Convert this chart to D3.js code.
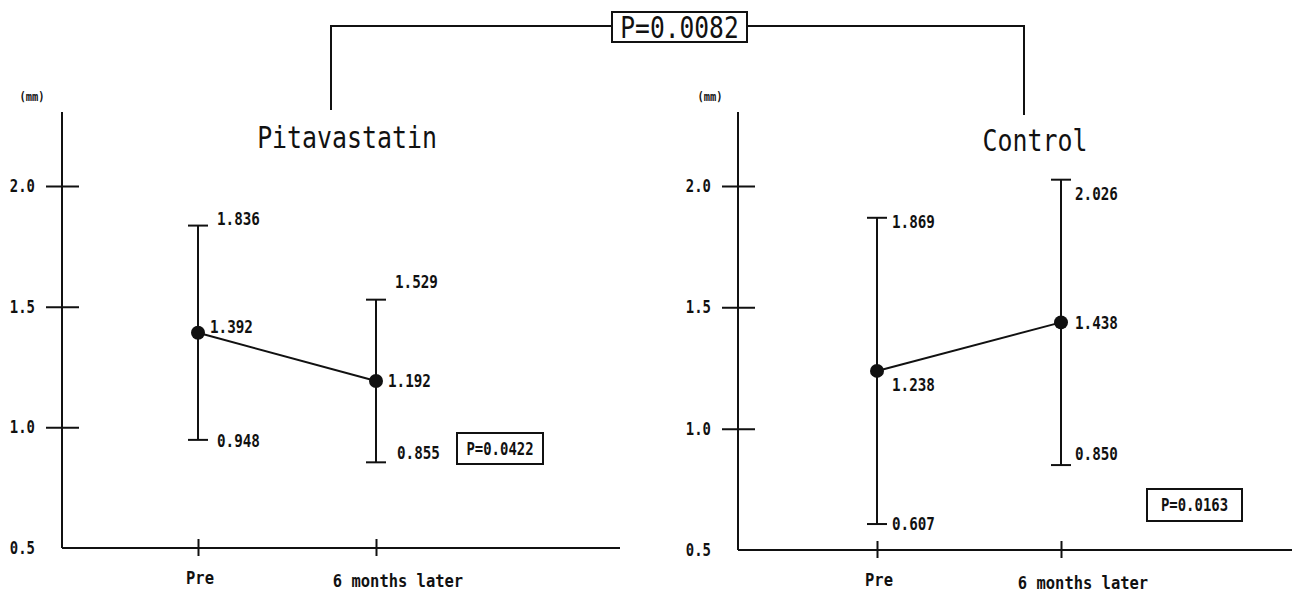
<!DOCTYPE html>
<html>
<head>
<meta charset="utf-8">
<script src="https://cdn.jsdelivr.net/npm/d3@7"></script>
<style>
  body { margin: 0; background: #fff; }
  svg { display: block; }
</style>
</head>
<body>
<svg id="chart"></svg>
<script>
// data
var categories = ["Pre", "6 months later"];
var yTicks = [0.5, 1.0, 1.5, 2.0];

var pitaMean  = [1.392, 1.192];
var pitaUpper = [1.836, 1.529];
var pitaLower = [0.948, 0.855];

var ctrlMean  = [1.238, 1.438];
var ctrlUpper = [1.869, 2.026];
var ctrlLower = [0.607, 0.850];

var pOverall = "P=0.0082";
var pPita = "P=0.0422";
var pCtrl = "P=0.0163";

var width = 1302, height = 593;
var ink = "#111";
var mono = "'DejaVu Sans Mono', 'Liberation Mono', monospace";

var svg = d3.select("#chart")
    .attr("width", width)
    .attr("height", height);

// condensed monospace text (the original uses a narrow gothic face)
function label(parent, x, y, str, size, weight, anchor, squeeze) {
  var g = parent.append("g")
      .attr("transform", "translate(" + x + "," + y + ") scale(" + (squeeze || 0.84) + ",1)");
  return g.append("text")
      .attr("text-anchor", anchor || "start")
      .attr("dy", "0.36em")
      .attr("font-family", mono)
      .attr("font-size", size)
      .attr("font-weight", weight || "normal")
      .attr("fill", ink)
      .text(str);
}

// layout of each panel (positions only)
var panels = [
  {name: "Pitavastatin", mean: pitaMean, upper: pitaUpper, lower: pitaLower, p: pPita,
   axisX: 62, axisTop: 112, y0: 548, y2: 186, xr: [198, 376], xEnd: 620,
   titleX: 347, titleY: 137, mmX: 32, pBox: [457, 433, 86, 31],
   off: [{up: [19, -7], mid: [12, -6], low: [19, 1]},
         {up: [19, -18], mid: [12, 0], low: [21, -9]}]},
  {name: "Control", mean: ctrlMean, upper: ctrlUpper, lower: ctrlLower, p: pCtrl,
   axisX: 738, axisTop: 112, y0: 550, y2: 186, xr: [877, 1061], xEnd: 1292,
   titleX: 1035, titleY: 140, mmX: 710, pBox: [1147, 489, 95, 32],
   off: [{up: [15, 4], mid: [15, 14], low: [15, 0]},
         {up: [14, 14], mid: [14, 0], low: [14, -11]}]}
];

panels.forEach(function(P) {
  var y = d3.scaleLinear().domain([0.5, 2.0]).range([P.y0, P.y2]);
  var x = d3.scalePoint().domain(categories).range(P.xr);
  var g = svg.append("g");

  // y axis
  var ya = g.append("g")
      .attr("transform", "translate(" + P.axisX + ",0)")
      .call(d3.axisLeft(y).tickValues(yTicks).tickFormat(d3.format(".1f")).tickSize(16));
  ya.select(".domain").remove();
  ya.selectAll(".tick line")
      .attr("x1", -16).attr("x2", 17)
      .attr("stroke", ink).attr("stroke-width", 2)
      .filter(function(d) { return d === 0.5; }).remove();
  ya.selectAll(".tick text")
      .attr("transform", "scale(0.82,1)")
      .attr("x", -27 / 0.82)
      .attr("font-family", mono)
      .attr("font-size", 17)
      .attr("font-weight", "bold")
      .attr("fill", ink);
  g.append("line")
      .attr("x1", P.axisX).attr("x2", P.axisX)
      .attr("y1", P.axisTop).attr("y2", P.y0)
      .attr("stroke", ink).attr("stroke-width", 2);

  // x axis
  var xa = g.append("g")
      .attr("transform", "translate(0," + P.y0 + ")")
      .call(d3.axisBottom(x).tickSize(8));
  xa.select(".domain").remove();
  xa.selectAll(".tick line")
      .attr("y1", -9).attr("y2", 8)
      .attr("stroke", ink).attr("stroke-width", 2);
  xa.selectAll(".tick text").remove();
  g.append("line")
      .attr("x1", P.axisX).attr("x2", P.xEnd)
      .attr("y1", P.y0).attr("y2", P.y0)
      .attr("stroke", ink).attr("stroke-width", 2);
  categories.forEach(function(c, i) {
    label(g, x(c) + (i === 0 ? 2 : 22), P.y0 + (i === 0 ? 30 : 33), c, 18, "bold", "middle", 0.86);
  });

  label(g, P.mmX, 96, "(mm)", 13, "bold", "middle", 0.8);
  label(g, P.titleX, P.titleY, P.name, 30, "normal", "middle", 0.83);

  // error bars
  categories.forEach(function(c, i) {
    var cx = x(c);
    g.append("line")
        .attr("x1", cx).attr("x2", cx)
        .attr("y1", y(P.lower[i])).attr("y2", y(P.upper[i]))
        .attr("stroke", ink).attr("stroke-width", 2);
    [P.lower[i], P.upper[i]].forEach(function(v) {
      g.append("line")
          .attr("x1", cx - 10).attr("x2", cx + 10)
          .attr("y1", y(v)).attr("y2", y(v))
          .attr("stroke", ink).attr("stroke-width", 2);
    });
    var o = P.off[i];
    label(g, cx + o.up[0], y(P.upper[i]) + o.up[1], P.upper[i].toFixed(3), 17, "bold");
    label(g, cx + o.mid[0], y(P.mean[i]) + o.mid[1], P.mean[i].toFixed(3), 17, "bold");
    label(g, cx + o.low[0], y(P.lower[i]) + o.low[1], P.lower[i].toFixed(3), 17, "bold");
  });

  // mean line and dots
  var line = d3.line()
      .x(function(d, i) { return x(categories[i]); })
      .y(function(d) { return y(d); });
  g.append("path")
      .datum(P.mean)
      .attr("d", line)
      .attr("fill", "none")
      .attr("stroke", ink).attr("stroke-width", 2);
  g.selectAll("circle.m")
      .data(P.mean)
      .enter().append("circle")
        .attr("cx", function(d, i) { return x(categories[i]); })
        .attr("cy", function(d) { return y(d); })
        .attr("r", 7)
        .attr("fill", ink);

  // p-value box
  g.append("rect")
      .attr("x", P.pBox[0]).attr("y", P.pBox[1])
      .attr("width", P.pBox[2]).attr("height", P.pBox[3])
      .attr("fill", "#fff").attr("stroke", ink).attr("stroke-width", 2);
  label(g, P.pBox[0] + P.pBox[2] / 2, P.pBox[1] + P.pBox[3] / 2, P.p, 17, "bold", "middle", 0.82);
});

// bracket between the two groups
var br = svg.append("g");
br.append("path")
    .attr("d", "M331,110V26H1024V115")
    .attr("fill", "none")
    .attr("stroke", ink).attr("stroke-width", 2);
br.append("rect")
    .attr("x", 612).attr("y", 12)
    .attr("width", 135).attr("height", 30)
    .attr("fill", "#fff").attr("stroke", ink).attr("stroke-width", 2);
label(br, 679.5, 27, pOverall, 30, "normal", "middle", 0.82);
</script>
</body>
</html>
